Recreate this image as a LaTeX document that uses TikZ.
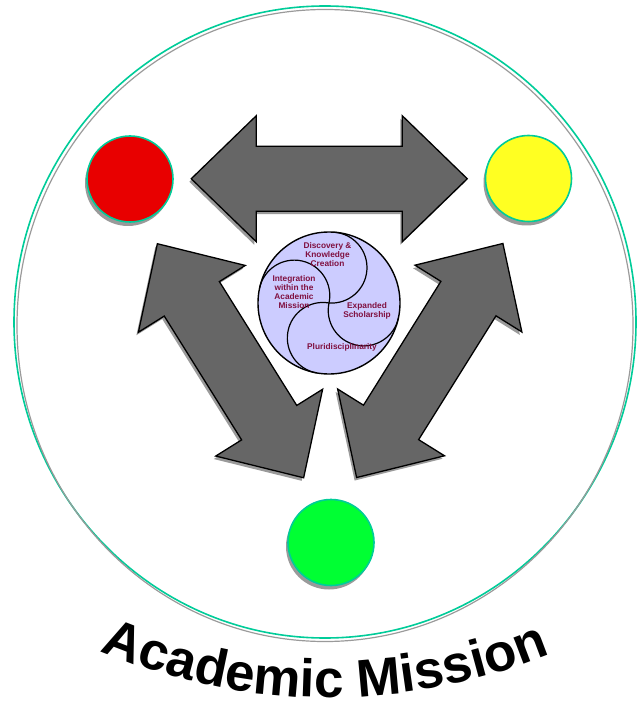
\documentclass[tikz,border=0pt]{standalone}
\usepackage{fontspec}
\setsansfont{Liberation Sans}
\usetikzlibrary{
  calc,
  shapes.geometric,
  shadows,
  decorations.text
}
\definecolor{amteal}{HTML}{00CC99}
\definecolor{amred}{HTML}{E80000}
\definecolor{amyellow}{HTML}{FFFF22}
\definecolor{amgreen}{HTML}{00FF33}
\definecolor{amlavender}{HTML}{CCCCFF}
\definecolor{ammaroon}{HTML}{801040}
\definecolor{amarrow}{HTML}{666666}
\definecolor{amshade}{HTML}{9A9A9A}

\begin{document}
\begin{tikzpicture}[x=1pt, y=1pt,
      ring/.style={
        ellipse, draw=amteal, line width=1.6pt,
        minimum width=622pt, minimum height=632pt, inner sep=0pt
      },
      ringshade/.style={draw=amshade, line width=1.2pt},
      ball/.style={
        circle, draw=amteal, line width=1.6pt,
        minimum size=86pt, inner sep=0pt,
        drop shadow={shadow xshift=-2pt, shadow yshift=-4pt,
          fill=amshade, opacity=1}
      },
      core/.style={
        circle, draw=black, line width=1.4pt, fill=amlavender,
        minimum size=142pt, inner sep=0pt
      },
      swirl/.style={draw=black, line width=1.2pt},
      coretext/.style={
        font=\sffamily\bfseries\fontsize{8.3}{9}\selectfont,
        text=ammaroon, align=center, inner sep=0pt
      },
      arrowbody/.style={fill=amarrow, draw=black, line width=1.3pt, line join=miter},
      arrowshade/.style={fill=amshade},
      dblarrow/.pic={
        \path[pic actions] (-138,0) -- (-73,63) -- (-73,32.5) -- (73,32.5)
          -- (73,63) -- (138,0) -- (73,-63) -- (73,-32.5) -- (-73,-32.5)
          -- (-73,-63) -- cycle;
      }
    ]
      \useasboundingbox (0,0) rectangle (637,-708);

      % outer ring
      \node[ring] (mission) at (325,-322) {};
      \draw[ringshade] ($(mission.center)+(0,-3.5)$) ellipse[x radius=308, y radius=316];

      % the three balls
      \coordinate (redc) at (130,-179);
      \coordinate (yellowc) at (528.5,-178.5);
      \coordinate (greenc) at (331,-542.5);

      % double arrows between the balls
      \pic[arrowshade] at ($(redc)!0.5!(yellowc)+(-2,-3)$) {dblarrow};
      \pic[arrowbody] at ($(redc)!0.5!(yellowc)$) {dblarrow};
      \pic[arrowshade, rotate=-58] at ($(redc)!0.5!(greenc)+(-2,-3)$) {dblarrow};
      \pic[arrowbody, rotate=-58] at ($(redc)!0.5!(greenc)$) {dblarrow};
      \pic[arrowshade, rotate=58] at ($(yellowc)!0.5!(greenc)+(-2,-3)$) {dblarrow};
      \pic[arrowbody, rotate=58] at ($(yellowc)!0.5!(greenc)$) {dblarrow};

      \node[ball, fill=amred] (redball) at (redc) {};
      \node[ball, fill=amyellow] (yellowball) at (yellowc) {};
      \node[ball, fill=amgreen] (greenball) at (greenc) {};

      % centre circle
      \node[core] (hub) at (329,-303) {};
      \foreach \a [evaluate=\a as \s using \a+180,
                   evaluate=\a as \e using \a+360] in {86,168,260,348}
        \draw[swirl] (hub.center) arc[start angle=\s, end angle=\e, radius=35.5];

      \node[coretext] (discovery) at (327.5,-255) {Discovery \&\\Knowledge\\Creation};
      \node[coretext] (integration) at (294,-292) {Integration\\within the\\Academic\\Mission};
      \node[coretext] (expanded) at (367,-310.5) {Expanded\\Scholarship};
      \node[coretext] (pluri) at (342,-347) {Pluridisciplinarity};

      % curved title
      \coordinate (titlec) at (328.5,-112.5);
      \path[decorate, decoration={text along path,
          text={|\sffamily\bfseries\fontsize{53}{53}\selectfont|Academic Mission}}]
        ($(titlec)+(247:585)$) arc[start angle=247, end angle=295, radius=585];
    \end{tikzpicture}
\end{document}
